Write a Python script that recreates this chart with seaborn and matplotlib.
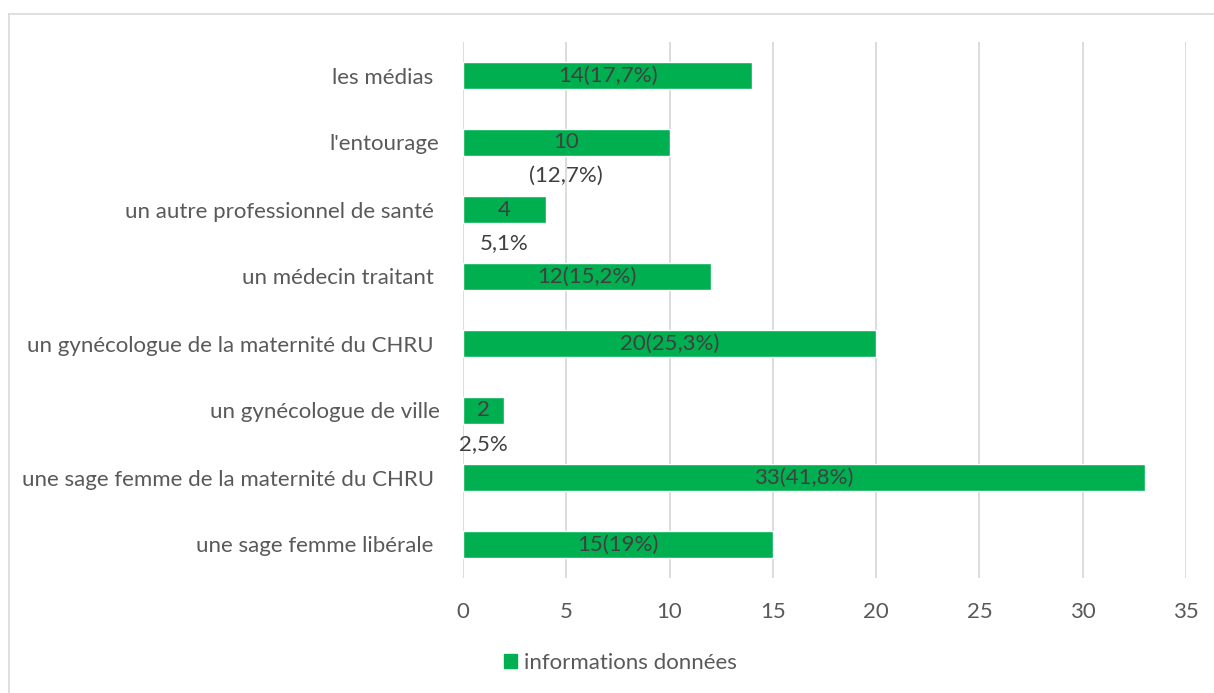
import matplotlib.pyplot as plt
import matplotlib.patches as mpatches
import matplotlib.lines as mlines
import seaborn as sns
import pandas as pd

# Data (top to bottom)
sources = ["les médias ", "l'entourage", "un autre professionnel de santé ",
           "un médecin traitant ", "un gynécologue de la maternité du CHRU ",
           "un gynécologue de ville", "une sage femme de la maternité du CHRU ",
           "une sage femme libérale "]
counts = [14, 10, 4, 12, 20, 2, 33, 15]
inside_labels = ["14(17,7%)", "10", "4", "12(15,2%)", "20(25,3%)", "2", "33(41,8%)", "15(19%)"]
below_labels = ["", "(12,7%)", "5,1%", "", "", "2,5%", "", ""]
x_ticks = [0, 5, 10, 15, 20, 25, 30, 35]

df = pd.DataFrame({"source": sources, "count": counts})

sns.set_theme(style="white")
plt.rcParams['font.family'] = ['Lato', 'DejaVu Sans']

green = '#00B050'
fs = 16
fig = plt.figure(figsize=(12.14, 6.93), dpi=100)
ax = fig.add_axes([463 / 1214, 1 - 578 / 693, (1186 - 463) / 1214, (578 - 42) / 693])

sns.barplot(data=df, y="source", x="count", color=green, saturation=1,
            width=0.39, ax=ax, zorder=3)

ax.set_xlim(0, 35)
ax.set_xticks(x_ticks)
ax.grid(axis='x', color='#D9D9D9', linewidth=1.3, zorder=0)
ax.set_axisbelow(True)
for s in ax.spines.values():
    s.set_visible(False)
ax.set_xlabel("")
ax.set_ylabel("")
ax.tick_params(axis='x', length=0, pad=17, labelsize=fs, labelcolor='#595959')
ax.tick_params(axis='y', length=0, pad=17, labelsize=fs, labelcolor='#595959')

for i, (v, t_in, t_below) in enumerate(zip(counts, inside_labels, below_labels)):
    ax.text(v / 2, i, t_in, ha='center', va='center', fontsize=fs, color='#404040', zorder=4)
    if t_below:
        ax.annotate(t_below, (v / 2, i), xytext=(0, -24), textcoords='offset points',
                    ha='center', va='center', fontsize=fs, color='#404040', zorder=4)

handle = mpatches.Patch(color=green, label='informations données')
fig.legend(handles=[handle], loc='center', bbox_to_anchor=(620 / 1214, 1 - 663 / 693),
           frameon=False, fontsize=fs, labelcolor='#595959',
           handlelength=0.6, handleheight=0.6, handletextpad=0.3)

# chart area border (only top and left edges are visible in the crop)
bx, by = 8.5 / 1214, 1 - 13.5 / 693
fig.add_artist(mlines.Line2D([bx, 1], [by, by], transform=fig.transFigure,
                             color='#D9D9D9', linewidth=1.2))
fig.add_artist(mlines.Line2D([bx, bx], [0, by], transform=fig.transFigure,
                             color='#D9D9D9', linewidth=1.2))

fig.savefig('out.png', dpi=100, facecolor='white')
